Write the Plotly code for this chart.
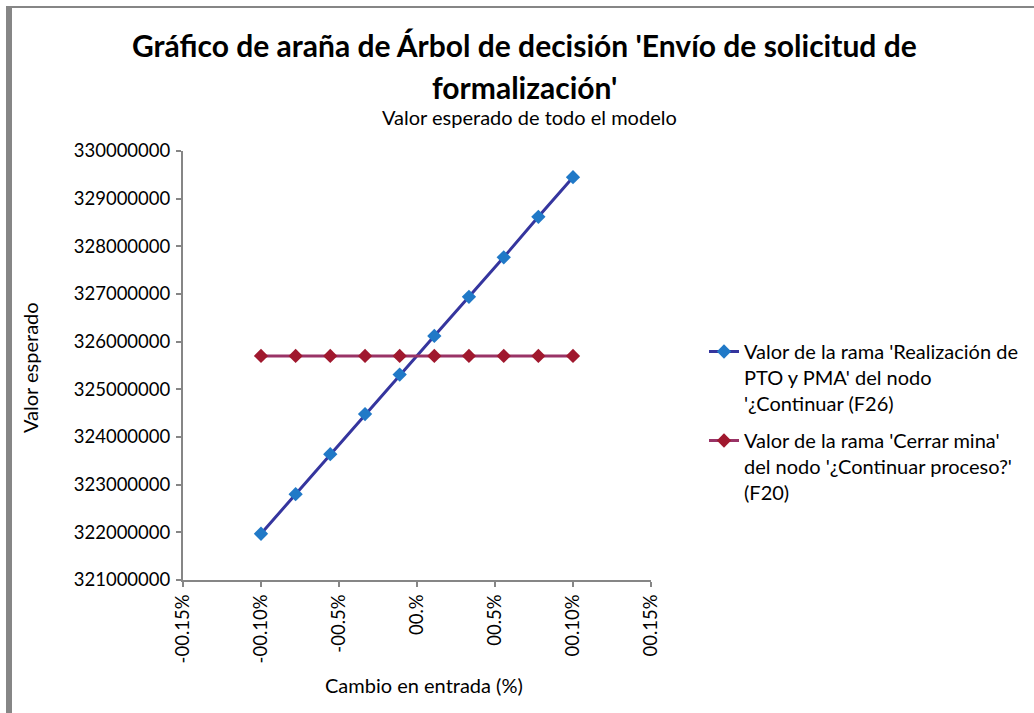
import plotly.graph_objects as go

# Data
x_change = [-0.1, -0.0778, -0.0556, -0.0333, -0.0111, 0.0111, 0.0333, 0.0556, 0.0778, 0.1]
blue_vals = [321970000, 322800000, 323640000, 324480000, 325310000, 326120000,
             326940000, 327770000, 328620000, 329450000]
red_vals = [325700000] * 10
x_tickvals = [-0.15, -0.10, -0.05, 0.0, 0.05, 0.10, 0.15]
x_ticktext = ["-00.15%", "-00.10%", "-00.5%", "00.%", "00.5%", "00.10%", "00.15%"]
y_tickvals = [321000000, 322000000, 323000000, 324000000, 325000000,
              326000000, 327000000, 328000000, 329000000, 330000000]

name_blue = "Valor de la rama 'Realización de<br>PTO y PMA' del nodo<br>'¿Continuar (F26)"
name_red = "Valor de la rama 'Cerrar mina'<br>del nodo '¿Continuar proceso?'<br>(F20)"

FONT = "Lato"
L, R, T, B = 183, 383, 151, 133
W, H = 1034, 713
PW, PH = W - L - R, H - T - B

def px(xp):
    return (xp - L) / PW

def py(yp):
    return (H - B - yp) / PH

fig = go.Figure()
fig.add_trace(go.Scatter(
    x=x_change, y=blue_vals, mode="lines+markers", name=name_blue, legendgroup="a",
    line=dict(color="#35359E", width=3),
    marker=dict(symbol="diamond", size=11, color="#2079C7"),
))
fig.add_trace(go.Scatter(
    x=x_change, y=red_vals, mode="lines+markers", name=name_red, legendgroup="b",
    line=dict(color="#993366", width=3),
    marker=dict(symbol="diamond", size=11, color="#A0182E"),
))

axis_common = dict(
    showgrid=False, zeroline=False, showline=True, linecolor="#868686", linewidth=2,
    ticks="outside", ticklen=5, tickwidth=2, tickcolor="#868686",
    tickfont=dict(family=FONT, size=18.5, color="#000000"),
)

fig.update_xaxes(range=[-0.15, 0.15], tickvals=x_tickvals, ticktext=x_ticktext,
                 tickangle=-90, **axis_common)
fig.update_yaxes(range=[321000000, 330000000], tickvals=y_tickvals,
                 tickformat="d", ticklabelstandoff=2, **axis_common)

annotations = [
    dict(text="<b>Gráfico de araña de Árbol de decisión 'Envío de solicitud de</b>",
         x=px(524), y=py(45), font=dict(size=30, family=FONT, color="#000")),
    dict(text="<b>formalización'</b>",
         x=px(524), y=py(87), font=dict(size=30, family=FONT, color="#000")),
    dict(text="Valor esperado de todo el modelo",
         x=px(529), y=py(117), font=dict(size=20, family=FONT, color="#000")),
    dict(text="Valor esperado", textangle=-90,
         x=px(30), y=py(368), font=dict(size=20, family=FONT, color="#000")),
    dict(text="Cambio en entrada (%)",
         x=px(424), y=py(685), font=dict(size=20, family=FONT, color="#000")),
]
for a in annotations:
    a.update(xref="paper", yref="paper", showarrow=False, xanchor="center", yanchor="middle")

shapes = [
    dict(type="rect", xref="paper", yref="paper", x0=px(6), x1=px(12), y0=py(713), y1=py(6),
         fillcolor="#868686", line=dict(width=0), layer="below"),
    dict(type="rect", xref="paper", yref="paper", x0=px(6), x1=px(1034), y0=py(8), y1=py(6),
         fillcolor="#868686", line=dict(width=0), layer="below"),
]

fig.update_layout(
    width=W, height=H,
    margin=dict(l=L, r=R, t=T, b=B, autoexpand=False),
    paper_bgcolor="white", plot_bgcolor="white",
    font=dict(family=FONT, size=18, color="#000"),
    showlegend=True,
    legend=dict(x=px(704), y=py(332), xanchor="left", yanchor="top",
                font=dict(family=FONT, size=20, color="#000"),
                valign="top", tracegroupgap=8, itemwidth=30,
                bgcolor="rgba(0,0,0,0)"),
    annotations=annotations,
    shapes=shapes,
)

fig.write_html("out.html", config={"displayModeBar": False},
               post_script="document.body.style.margin='0px';")
